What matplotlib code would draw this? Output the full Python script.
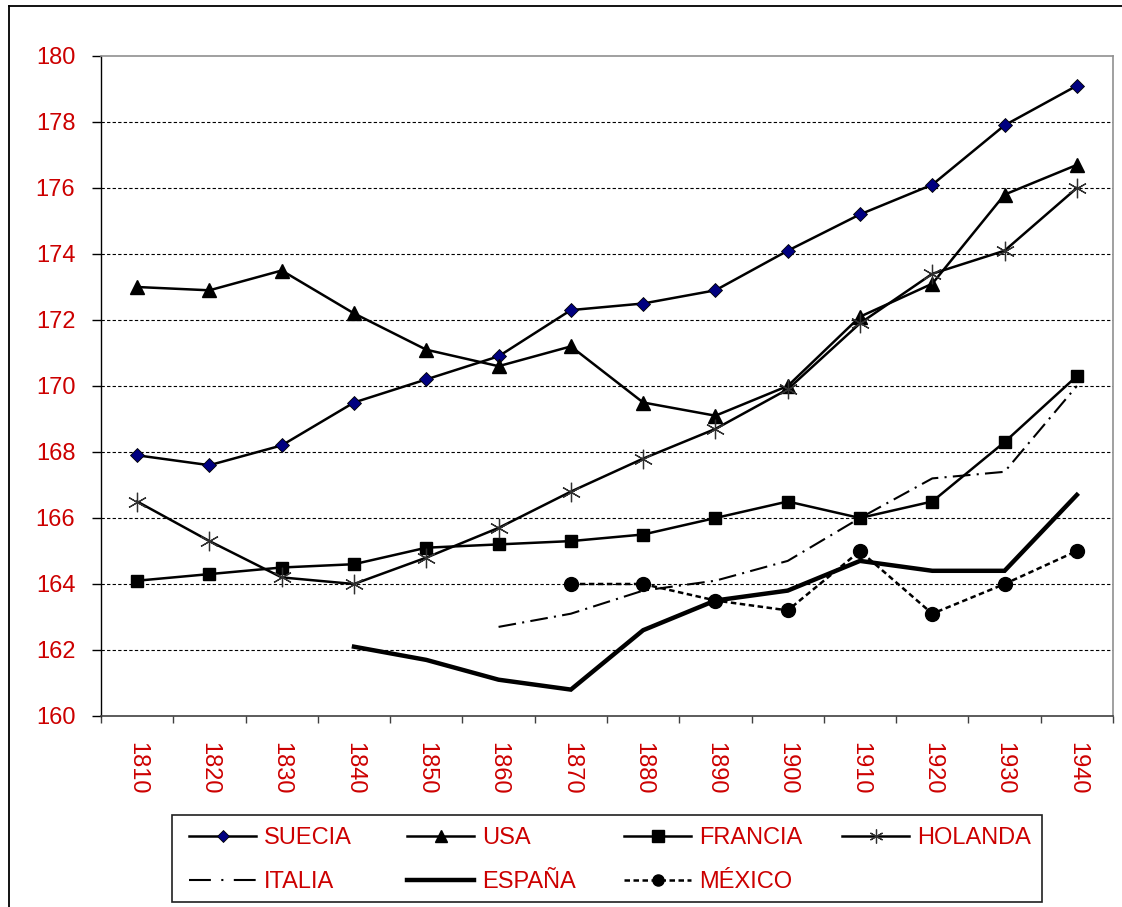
import matplotlib
matplotlib.use("Agg")
import matplotlib.pyplot as plt
from matplotlib.lines import Line2D
from matplotlib.patches import Rectangle
import numpy as np

plt.rcParams['font.family'] = ['Liberation Sans', 'DejaVu Sans']

decades = ['1810', '1820', '1830', '1840', '1850', '1860', '1870',
           '1880', '1890', '1900', '1910', '1920', '1930', '1940']

suecia = [167.9, 167.6, 168.2, 169.5, 170.2, 170.9, 172.3, 172.5, 172.9,
          174.1, 175.2, 176.1, 177.9, 179.1]
usa = [173.0, 172.9, 173.5, 172.2, 171.1, 170.6, 171.2, 169.5, 169.1,
       170.0, 172.1, 173.1, 175.8, 176.7]
francia = [164.1, 164.3, 164.5, 164.6, 165.1, 165.2, 165.3, 165.5, 166.0,
           166.5, 166.0, 166.5, 168.3, 170.3]
holanda = [166.5, 165.3, 164.2, 164.0, 164.8, 165.7, 166.8, 167.8, 168.7,
           169.9, 171.9, 173.4, 174.1, 176.0]
italia = [None, None, None, None, None, 162.7, 163.1, 163.8, 164.1,
          164.7, 166.0, 167.2, 167.4, 170.0]
espana = [None, None, None, 162.1, 161.7, 161.1, 160.8, 162.6, 163.5,
          163.8, 164.7, 164.4, 164.4, 166.7]
mexico = [None, None, None, None, None, None, 164.0, 164.0, 163.5,
          163.2, 165.0, 163.1, 164.0, 165.0]

RED = '#CC0000'


def arr(values):
    return np.array([np.nan if v is None else v for v in values], dtype=float)


fig = plt.figure(figsize=(11.22, 9.07), dpi=100)
W, H = 1122, 907

# outer frame of the chart area
fig.add_artist(Line2D([9 / W, 9 / W], [0, 1 - 6 / H], transform=fig.transFigure,
                      color='black', lw=1.3))
fig.add_artist(Line2D([9 / W, 1], [1 - 6 / H, 1 - 6 / H], transform=fig.transFigure,
                      color='black', lw=1.3))

ax = fig.add_axes([101 / W, 1 - 716 / H, (1113 - 101) / W, (716 - 56) / H])
x = np.arange(len(decades))

styles = {
    'SUECIA': dict(y=arr(suecia), color='black', lw=1.8, marker='D', ms=7.5,
                   mfc='#000080', mec='black', mew=0.6, ls='-'),
    'USA': dict(y=arr(usa), color='black', lw=1.8, marker='^', ms=10,
                mfc='black', mec='black', ls='-'),
    'FRANCIA': dict(y=arr(francia), color='black', lw=1.8, marker='s', ms=9,
                    mfc='black', mec='black', ls='-'),
    'HOLANDA': dict(y=arr(holanda), color='black', lw=1.8, marker=(6, 2, 0), ms=14,
                    mfc='none', mec='#303030', mew=0.9, ls='-'),
    'ITALIA': dict(y=arr(italia), color='black', lw=1.5, marker=None,
                   ls=(0, (8.5, 3, 1, 3)), legend_ls=(0, (10.5, 5, 1, 5))),
    'ESPAÑA': dict(y=arr(espana), color='black', lw=3.2, marker=None, ls='-'),
    'MÉXICO': dict(y=arr(mexico), color='black', lw=1.8, marker='o', ms=10,
                   mfc='black', mec='black', ls=(0, (2.2, 1.4))),
}

for name, st in styles.items():
    ax.plot(x, st['y'], color=st['color'], lw=st['lw'], ls=st['ls'],
            marker=st.get('marker'), ms=st.get('ms', 0), mfc=st.get('mfc'),
            mec=st.get('mec'), mew=st.get('mew', 1.0), zorder=3,
            solid_joinstyle='miter')

ax.set_xlim(-0.5, len(decades) - 0.5)
ax.set_ylim(160, 180)

ax.set_yticks(np.arange(160, 181, 2))
ax.set_yticklabels([str(v) for v in range(160, 181, 2)])
ax.tick_params(axis='y', length=6.5, width=1, color='black', pad=12,
               labelsize=17, labelcolor=RED, direction='out')

ax.set_xticks(x)
ax.set_xticklabels(decades, rotation=-90)
ax.tick_params(axis='x', which='major', length=0, pad=19, labelsize=17,
               labelcolor=RED)
ax.set_xticks(np.arange(-0.5, len(decades), 1.0), minor=True)
ax.tick_params(axis='x', which='minor', length=5, width=1, color='#404040',
               direction='out')

for yv in range(162, 180, 2):
    ax.axhline(yv, color='black', lw=0.8, ls=(0, (3, 2)), zorder=1)

ax.spines['left'].set_color('black')
ax.spines['left'].set_linewidth(1.0)
ax.spines['bottom'].set_color('#404040')
ax.spines['bottom'].set_linewidth(1.2)
ax.spines['top'].set_color('#909090')
ax.spines['top'].set_linewidth(1.2)
ax.spines['right'].set_color('#909090')
ax.spines['right'].set_linewidth(1.2)

# legend box laid out as a 4-column grid
fig.add_artist(Rectangle((172 / W, 1 - 902 / H), (1042 - 172) / W, (902 - 815) / H,
                         transform=fig.transFigure, fill=False, ec='#202020', lw=1.2))

legend_marker_sizes = {'SUECIA': 6, 'USA': 8, 'FRANCIA': 8, 'HOLANDA': 10,
                       'MÉXICO': 8}
col_x = [189, 407, 624, 842]
row_y = [836, 880]
handle_len = 67
names = list(styles.keys())
for i, name in enumerate(names):
    st = styles[name]
    r, c = divmod(i, 4)
    x0 = col_x[c]
    yy = 1 - row_y[r] / H
    fig.add_artist(Line2D([x0 / W, (x0 + handle_len) / W], [yy, yy],
                          transform=fig.transFigure, color='black', lw=st['lw'],
                          ls=st.get('legend_ls', st['ls'])))
    if st.get('marker') is not None:
        fig.add_artist(Line2D([(x0 + handle_len / 2) / W], [yy],
                              transform=fig.transFigure, ls='none',
                              marker=st['marker'], ms=legend_marker_sizes[name],
                              mfc=st['mfc'], mec=st['mec'], mew=st.get('mew', 1.0)))
    fig.text((x0 + handle_len + 8) / W, yy, name, color=RED, fontsize=17,
             ha='left', va='center_baseline')

fig.savefig('out.png', dpi=100)
